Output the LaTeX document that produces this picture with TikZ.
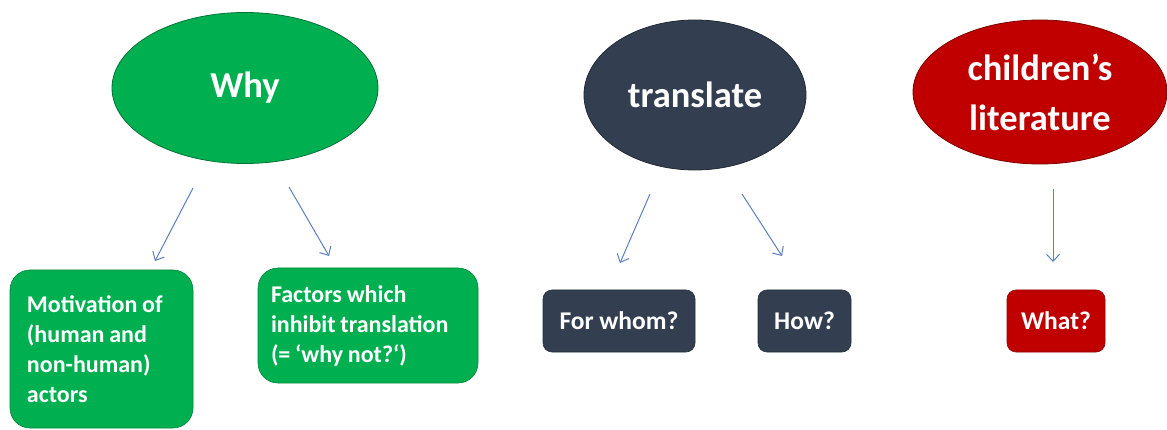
\documentclass[tikz,border=0pt]{standalone}
\usepackage{fontspec}
\setmainfont{Carlito}
\usetikzlibrary{shapes.geometric,arrows.meta}
\definecolor{cgreen}{HTML}{00B050}
\definecolor{cnavy}{HTML}{333F50}
\definecolor{cred}{HTML}{C00000}
\definecolor{carrow}{HTML}{5B7FC0}
\hbadness=10000
\newcommand\tightspaces{\spaceskip=0.2em\relax}
\begin{document}
\begin{tikzpicture}[x=1pt,y=-1pt,
  oval/.style={ellipse,draw=#1!65!black,fill=#1,line width=0.8pt,inner sep=0pt,
    text=white,font=\fontsize{36.5}{50}\selectfont\bfseries,align=center},
  bigbox/.style={rectangle,rounded corners=20pt,draw=#1!75!black,fill=#1,line width=0.6pt,
    text=white,font=\fontsize{24}{30}\selectfont\bfseries,align=left,inner ysep=0pt,
    execute at begin node=\tightspaces},
  smallbox/.style={rectangle,rounded corners=9pt,draw=#1!75!black,fill=#1,line width=0.6pt,
    text=white,font=\fontsize{25.5}{30}\selectfont\bfseries,inner sep=0pt},
  conn/.style={draw=carrow,line width=1pt,-{Straight Barb[length=7pt,width=13pt,line width=1pt]}}]
\useasboundingbox (0,0) rectangle (1167,430);

% ovals
\node[oval=cgreen,minimum width=266pt,minimum height=151pt] (why) at (245,88) {Why};
\node[oval=cnavy,minimum width=222pt,minimum height=150pt] (tr) at (695,95) {translate};
\node[oval=cred,minimum width=254pt,minimum height=144pt] (cl) at (1040,92) {children’s\\literature};

% boxes
\node[bigbox=cgreen,minimum width=183pt,minimum height=158pt,text width=149pt,inner xsep=17pt] (mot) at (101.5,349)
  {Motivation of\\(human and\\non-human)\\actors};
\node[bigbox=cgreen,minimum width=220pt,minimum height=115pt,text width=194pt,inner xsep=13pt] (fac) at (368,325.5)
  {Factors which\\inhibit translation\\(= ‘why not?‘)};
\node[smallbox=cnavy,minimum width=152pt,minimum height=62pt] (whom) at (619,321) {For whom?};
\node[smallbox=cnavy,minimum width=93pt,minimum height=62pt] (how) at (804.5,321) {How?};
\node[smallbox=cred,minimum width=98pt,minimum height=62pt] (what) at (1056,321) {What?};

% connectors
\coordinate (a1s) at (193,188); \coordinate (a1e) at (155,261);
\coordinate (a2s) at (289,187); \coordinate (a2e) at (329,256);
\coordinate (a3s) at (650,194); \coordinate (a3e) at (620,263);
\coordinate (a4s) at (742,194); \coordinate (a4e) at (782,256);
\coordinate (a5s) at (1053,189); \coordinate (a5e) at (1053,262);
\draw[conn] (a1s) -- (a1e);
\draw[conn] (a2s) -- (a2e);
\draw[conn] (a3s) -- (a3e);
\draw[conn] (a4s) -- (a4e);
\draw[conn] (a5s) -- (a5e);
\end{tikzpicture}
\end{document}
